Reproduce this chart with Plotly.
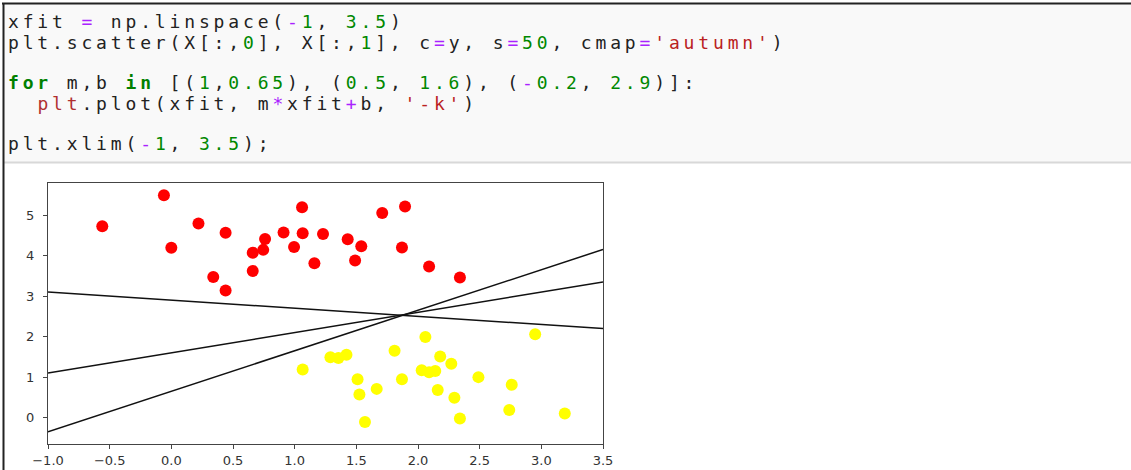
import numpy as np
import plotly.graph_objects as go

# ---- data ----
red_x = [-0.56, -0.06, 0.00, 0.22, 0.44, 0.34, 0.44, 0.66, 0.745, 0.76, 0.66, 0.91, 1.06,
         1.065, 0.995, 1.16, 1.23, 1.43, 1.54, 1.49, 1.71, 1.895, 1.87, 2.09, 2.34]
red_y = [4.72, 5.49, 4.19, 4.79, 4.56, 3.47, 3.14, 4.07, 4.14, 4.41, 3.62, 4.57, 5.19,
         4.55, 4.21, 3.81, 4.53, 4.40, 4.23, 3.88, 5.05, 5.21, 4.20, 3.73, 3.46]
yellow_x = [2.06, 2.95, 1.81, 1.29, 1.355, 1.42, 2.18, 2.27, 2.03, 2.09, 2.14, 1.065,
            1.51, 1.87, 2.49, 2.76, 1.665, 1.525, 2.16, 2.295, 2.74, 3.19, 2.34, 1.57]
yellow_y = [1.99, 2.06, 1.65, 1.49, 1.47, 1.55, 1.51, 1.33, 1.17, 1.12, 1.15, 1.19,
            0.95, 0.95, 1.00, 0.81, 0.71, 0.57, 0.68, 0.49, 0.19, 0.10, -0.02, -0.11]
slopes = [1, 0.5, -0.2]
intercepts = [0.65, 1.6, 2.9]
x_ticks = [-1.0, -0.5, 0.0, 0.5, 1.0, 1.5, 2.0, 2.5, 3.0, 3.5]
y_ticks = [0, 1, 2, 3, 4, 5]

W, H = 1131, 470

def px(x):
    return x / W

def py(y):
    return 1 - y / H

fig = go.Figure()
fig.add_trace(go.Scatter(x=red_x, y=red_y, mode="markers",
                         marker=dict(color="#ff0000", size=12, line=dict(width=0)),
                         showlegend=False, hoverinfo="skip"))
fig.add_trace(go.Scatter(x=yellow_x, y=yellow_y, mode="markers",
                         marker=dict(color="#ffff00", size=12, line=dict(width=0)),
                         showlegend=False, hoverinfo="skip"))
xfit = np.linspace(-1, 3.5)
for m, b in zip(slopes, intercepts):
    fig.add_trace(go.Scatter(x=xfit, y=m * xfit + b, mode="lines",
                             line=dict(color="#111111", width=1.5),
                             showlegend=False, hoverinfo="skip"))

# ---- code cell text ----
G = "#008800"   # numbers
P = "#aa22ff"   # operators
S = "#ba2121"   # strings
K = "#008000"   # keywords

def c(t, col, bold=False):
    s = f'<span style="color:{col}">{t}</span>'
    return f"<b>{s}</b>" if bold else s

code_lines = [
    "xfit " + c("=", P) + " np.linspace(" + c("-", P) + c("1", G) + ", " + c("3.5", G) + ")",
    "plt.scatter(X[:," + c("0", G) + "], X[:," + c("1", G) + "], c" + c("=", P) + "y, s" + c("=", P)
    + c("50", G) + ", cmap" + c("=", P) + c("'autumn'", S) + ")",
    "",
    c("for", K, True) + " m,b " + c("in", K, True) + " [(" + c("1", G) + "," + c("0.65", G) + "), ("
    + c("0.5", G) + ", " + c("1.6", G) + "), (" + c("-", P) + c("0.2", G) + ", " + c("2.9", G) + ")]:",
    "\u00a0\u00a0" + c("plt", "#b03030") + ".plot(xfit, m" + c("*", P) + "xfit" + c("+", P) + "b, " + c("'-k'", S) + ")",
    "",
    "plt.xlim(" + c("-", P) + c("1", G) + ", " + c("3.5", G) + ");",
]

annotations = []
y0, dy = 22, 20.3
for i, line in enumerate(code_lines):
    if not line:
        continue
    annotations.append(dict(
        xref="paper", yref="paper", x=px(6), y=py(y0 + i * dy),
        xanchor="left", yanchor="middle", showarrow=False,
        text='<span style="letter-spacing:3.85px">' + line + "</span>",
        font=dict(family="DejaVu Sans Mono", size=18, color="#222222"),
    ))

shapes = [
    dict(type="rect", xref="paper", yref="paper", x0=px(4), x1=1, y0=py(162), y1=py(4),
         fillcolor="#f9f9f9", line=dict(width=0), layer="below"),
    dict(type="line", xref="paper", yref="paper", x0=px(4), x1=1, y0=py(162.5), y1=py(162.5),
         line=dict(color="#d8d8d8", width=2)),
    dict(type="line", xref="paper", yref="paper", x0=px(2), x1=1, y0=py(3.5), y1=py(3.5),
         line=dict(color="#222222", width=2)),
    dict(type="line", xref="paper", yref="paper", x0=px(3.5), x1=px(3.5), y0=0, y1=py(3),
         line=dict(color="#222222", width=2)),
]

axis_common = dict(showgrid=False, zeroline=False, showline=True, mirror=True,
                   linecolor="#444444", linewidth=1.2, ticks="outside", ticklen=4,
                   tickcolor="#444444", tickwidth=1, automargin=False,
                   tickfont=dict(family="DejaVu Sans", size=13, color="#333333"))

fig.update_layout(
    width=W, height=H,
    margin=dict(l=0, r=0, t=0, b=0),
    paper_bgcolor="white", plot_bgcolor="white",
    xaxis=dict(domain=[px(48), px(603)], range=[-1, 3.5], tickvals=x_ticks,
               tickformat=".1f", **axis_common),
    yaxis=dict(domain=[py(444), py(183)], range=[-0.65, 5.79], tickvals=y_ticks,
               ticklabelstandoff=6, **axis_common),
    annotations=annotations,
    shapes=shapes,
)

fig.write_html("out.html")
